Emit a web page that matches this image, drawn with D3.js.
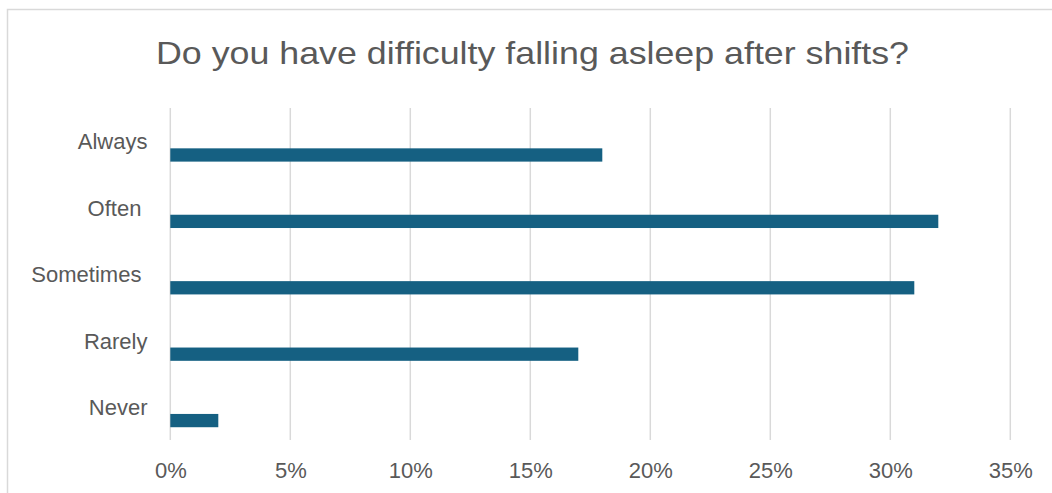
<!DOCTYPE html>
<html>
<head>
<meta charset="utf-8">
<script src="https://cdn.jsdelivr.net/npm/d3@7"></script>
<style>
  html, body { margin: 0; padding: 0; background: #fff; }
  svg { display: block; }
  text { font-family: "Liberation Sans", Arial, sans-serif; fill: #595959; }
</style>
</head>
<body>
<svg id="chart" width="1052" height="493"></svg>
<script>
// Survey responses: share of respondents per answer
const categories = ["Always", "Often ", "Sometimes ", "Rarely", "Never"];
const shares = [0.18, 0.32, 0.31, 0.17, 0.02];
const tickValues = [0, 0.05, 0.10, 0.15, 0.20, 0.25, 0.30, 0.35];
const title = "Do you have difficulty falling asleep after shifts?";

const svg = d3.select("#chart");
const W = 1052, H = 493;

// chart frame (continues past right/bottom edges)
svg.append("path")
  .attr("d", `M7.5,${H + 5}V9.5H${W + 5}`)
  .attr("fill", "none")
  .attr("stroke", "#d9d9d9")
  .attr("stroke-width", 1.5);

// title
svg.append("text")
  .attr("x", 532.5)
  .attr("y", 64.3)
  .attr("text-anchor", "middle")
  .attr("font-size", 32)
  .attr("textLength", 753)
  .attr("lengthAdjust", "spacingAndGlyphs")
  .text(title);

const x = d3.scaleLinear().domain([0, 0.35]).range([170.3, 1010.3]);
const y = d3.scaleBand().domain(categories).range([108.5, 440.5]).padding(0);
// three bar slots per category; the data series sits in the last slot
const slot = d3.scaleBand().domain([0, 1, 2]).range([0, y.bandwidth()])
  .paddingInner(0).paddingOuter(1.0);

// vertical gridlines
svg.append("g")
  .selectAll("line")
  .data(tickValues)
  .join("line")
  .attr("x1", d => x(d)).attr("x2", d => x(d))
  .attr("y1", 108).attr("y2", 440)
  .attr("stroke", "#d9d9d9")
  .attr("stroke-width", 1.5);

// bottom axis labels
const xAxis = d3.axisBottom(x)
  .tickValues(tickValues)
  .tickFormat(d3.format(".0%"))
  .tickSize(0)
  .tickPadding(0);
const gx = svg.append("g").attr("transform", "translate(0,462)").call(xAxis);
gx.select(".domain").remove();
gx.selectAll("text")
  .attr("dy", null)
  .attr("y", 16)
  .attr("font-size", 22)
  .attr("fill", "#595959")
  .style("font-family", '"Liberation Sans", Arial, sans-serif');

// category labels
svg.append("g")
  .selectAll("text")
  .data(categories)
  .join("text")
  .attr("x", 147.5)
  .attr("y", d => y(d) + y.bandwidth() / 2)
  .attr("dy", "0.35em")
  .attr("text-anchor", "end")
  .attr("font-size", 22)
  .style("white-space", "pre")
  .text(d => d);

// bars
svg.append("g")
  .selectAll("rect")
  .data(categories.map((c, i) => ({ c, v: shares[i] })))
  .join("rect")
  .attr("x", x(0))
  .attr("y", d => y(d.c) + slot(2))
  .attr("width", d => x(d.v) - x(0))
  .attr("height", slot.bandwidth())
  .attr("fill", "#156082");
</script>
</body>
</html>
